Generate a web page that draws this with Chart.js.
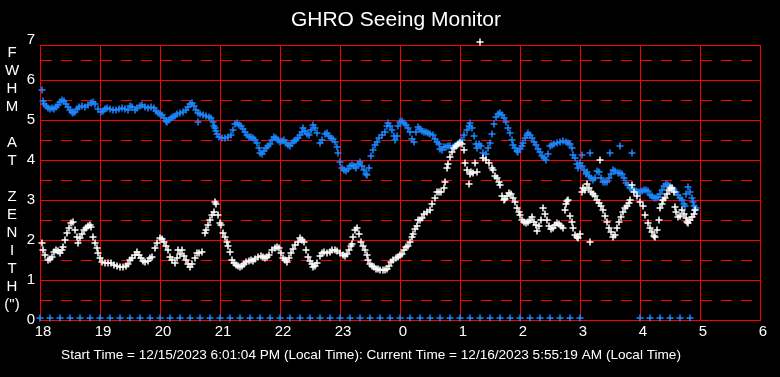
<!DOCTYPE html>
<html><head><meta charset="utf-8">
<script src="https://cdn.jsdelivr.net/npm/chart.js@4"></script>
<style>html,body{margin:0;padding:0;background:#000;}canvas{display:block;}</style>
</head><body>
<canvas id="c" width="780" height="377"></canvas>
<script>
const titleText = "GHRO Seeing Monitor";
const footerText = "Start Time = 12/15/2023 6:01:04 PM (Local Time): Current Time = 12/16/2023 5:55:19 AM (Local Time)";
const yAxisLetters = ["F","W","H","M","","A","T","","Z","E","N","I","T","H","(\")"];
const yMin = 0, yFrameTop = 6.875;
const yTickValues = [0,0.5,1,1.5,2,2.5,3,3.5,4,4.5,5,5.5,6,6.5,6.875,7];
const xStartHour = 18, xEndHour = 30;

// [minutes after 18:00, FWHM]
const bluePoints = [[2,5.75],[3,5.48],[4,5.40],[6,5.35],[8,5.30],[10,5.28],[12,5.30],[14,5.27],[16,5.32],[18,5.38],[20,5.45],[22,5.50],[24,5.47],[26,5.40],[28,5.33],[30,5.25],[32,5.20],[33,5.17],[35,5.20],[37,5.28],[39,5.33],[42,5.35],[45,5.33],[48,5.37],[51,5.43],[53,5.45],[55,5.40],[58,5.28],[61,5.20],[63,5.22],[65,5.28],[67,5.30],[70,5.27],[73,5.25],[76,5.25],[79,5.27],[82,5.30],[85,5.28],[88,5.25],[90,5.35],[92,5.32],[95,5.25],[97,5.30],[100,5.35],[102,5.37],[105,5.32],[108,5.30],[111,5.33],[114,5.30],[116,5.22],[118,5.18],[120,5.15],[122,5.12],[124,5.05],[126,4.97],[127,4.95],[129,5.00],[131,5.05],[133,5.07],[135,5.10],[137,5.15],[140,5.18],[143,5.20],[146,5.25],[148,5.32],[150,5.40],[152,5.43],[154,5.35],[156,5.25],[158,5.18],[160,5.15],[163,5.12],[166,5.10],[169,5.08],[171,5.05],[173,4.95],[174,4.85],[175,4.80],[176,4.72],[177,4.65],[179,4.57],[182,4.55],[185,4.55],[188,4.57],[191,4.62],[193,4.75],[195,4.90],[197,4.93],[199,4.88],[201,4.85],[203,4.78],[205,4.70],[207,4.62],[209,4.58],[211,4.57],[213,4.55],[215,4.50],[217,4.42],[219,4.30],[220,4.17],[222,4.15],[224,4.22],[226,4.30],[228,4.35],[230,4.40],[232,4.50],[234,4.57],[236,4.55],[238,4.50],[240,4.45],[242,4.47],[244,4.50],[246,4.43],[248,4.37],[250,4.35],[252,4.42],[254,4.48],[256,4.50],[258,4.55],[260,4.62],[262,4.70],[263,4.80],[265,4.72],[267,4.65],[269,4.62],[271,4.75],[273,4.87],[275,4.80],[277,4.68],[280,4.42],[282,4.50],[285,4.65],[287,4.67],[289,4.60],[291,4.55],[293,4.52],[295,4.45],[297,4.33],[298,4.17],[300,3.95],[302,3.80],[304,3.75],[306,3.72],[308,3.78],[310,3.85],[312,3.88],[314,3.85],[316,3.80],[318,3.90],[320,3.95],[322,3.85],[324,3.75],[326,3.65],[327,3.62],[329,3.80],[331,4.10],[333,4.25],[335,4.38],[337,4.45],[339,4.55],[342,4.62],[345,4.70],[347,4.85],[348,4.92],[350,4.85],[352,4.75],[354,4.60],[355,4.50],[357,4.60],[358,4.85],[360,4.95],[362,4.98],[364,4.92],[366,4.88],[368,4.80],[370,4.70],[372,4.52],[374,4.45],[376,4.70],[378,4.82],[380,4.78],[382,4.72],[384,4.70],[386,4.70],[388,4.68],[390,4.65],[393,4.62],[395,4.52],[397,4.45],[399,4.40],[400,4.27],[402,4.25],[404,4.32],[406,4.33],[408,4.35],[410,4.35],[413,4.32],[415,4.35],[417,4.37],[420,4.45],[422,4.50],[424,4.62],[427,4.75],[429,4.85],[430,4.92],[432,4.80],[434,4.60],[436,4.40],[437,4.30],[439,4.40],[441,4.35],[443,4.18],[446,4.15],[448,4.30],[450,4.42],[452,4.65],[454,4.90],[456,5.07],[458,5.15],[460,5.17],[462,5.12],[464,5.05],[466,4.95],[468,4.80],[470,4.67],[472,4.50],[473,4.37],[475,4.30],[477,4.22],[478,4.20],[480,4.28],[482,4.35],[483,4.42],[485,4.55],[487,4.62],[488,4.67],[490,4.62],[492,4.55],[494,4.45],[496,4.37],[498,4.28],[500,4.20],[502,4.10],[504,4.05],[506,4.00],[508,4.15],[510,4.35],[512,4.37],[514,4.40],[517,4.43],[520,4.45],[523,4.48],[526,4.45],[528,4.42],[530,4.40],[532,4.30],[533,4.12],[535,4.05],[537,3.90],[538,3.80],[540,3.92],[542,3.85],[544,3.75],[546,3.65],[547,3.70],[549,3.60],[551,3.55],[553,3.50],[555,3.55],[557,3.72],[559,3.70],[561,3.55],[563,3.45],[565,3.45],[567,3.45],[569,3.55],[571,3.65],[573,3.75],[575,3.72],[578,3.67],[580,3.67],[582,3.65],[584,3.55],[586,3.42],[588,3.38],[590,3.30],[592,3.27],[594,3.25],[596,3.22],[598,3.20],[600,3.20],[602,3.22],[604,3.25],[606,3.25],[608,3.22],[610,3.12],[612,3.10],[614,3.05],[616,3.05],[618,3.08],[620,3.15],[622,3.25],[624,3.35],[626,3.40],[628,3.38],[630,3.35],[632,3.30],[634,3.25],[636,3.20],[638,3.12],[640,3.05],[642,3.00],[644,2.90],[645,2.85],[646,3.15],[648,3.32],[650,3.20],[652,3.05],[653,2.95],[654,2.85],[655,2.75],[656,2.80],
  [542,4.12],[550,4.17],[570,4.17],[580,4.35],[592,4.17],[158,4.95]];

const whitePoints = [[2,1.92],[3,1.75],[5,1.62],[8,1.50],[10,1.52],[12,1.58],[14,1.70],[16,1.75],[18,1.72],[20,1.67],[22,1.75],[23,1.83],[25,2.00],[27,2.17],[29,2.30],[31,2.42],[33,2.45],[35,2.25],[37,2.08],[38,1.92],[40,2.05],[42,2.15],[44,2.25],[46,2.30],[48,2.35],[50,2.37],[51,2.33],[53,2.08],[55,1.92],[57,1.80],[58,1.67],[60,1.55],[62,1.45],[65,1.43],[68,1.42],[71,1.42],[74,1.38],[77,1.35],[80,1.33],[83,1.33],[86,1.35],[88,1.40],[90,1.50],[92,1.55],[95,1.62],[97,1.70],[99,1.62],[101,1.55],[103,1.48],[105,1.45],[108,1.48],[110,1.55],[112,1.58],[115,1.80],[117,1.92],[120,2.05],[122,2.02],[124,1.95],[126,1.85],[128,1.75],[130,1.58],[132,1.50],[135,1.42],[137,1.55],[138,1.75],[140,1.65],[142,1.75],[144,1.60],[146,1.50],[148,1.40],[150,1.33],[152,1.40],[155,1.55],[157,1.67],[159,1.67],[162,1.70],[165,2.17],[166,2.25],[168,2.37],[170,2.50],[172,2.62],[174,2.70],[175,2.95],[176,2.90],[178,2.62],[180,2.42],[181,2.37],[183,2.17],[185,2.08],[187,1.95],[188,1.85],[190,1.70],[192,1.50],[194,1.42],[196,1.37],[198,1.35],[200,1.33],[202,1.35],[204,1.40],[206,1.45],[209,1.48],[211,1.50],[213,1.47],[215,1.52],[218,1.58],[221,1.60],[223,1.58],[225,1.55],[227,1.58],[229,1.62],[232,1.75],[235,1.80],[237,1.83],[239,1.80],[241,1.68],[243,1.55],[245,1.50],[247,1.45],[249,1.55],[251,1.67],[253,1.78],[255,1.87],[258,1.95],[260,2.05],[262,2.00],[264,1.95],[266,1.75],[268,1.58],[270,1.48],[272,1.40],[273,1.32],[275,1.35],[277,1.42],[280,1.60],[282,1.67],[284,1.70],[287,1.67],[290,1.70],[292,1.75],[295,1.75],[297,1.72],[300,1.67],[303,1.62],[305,1.60],[307,1.65],[309,1.75],[311,1.85],[312,1.90],[313,2.08],[315,2.25],[317,2.30],[319,2.15],[321,1.95],[323,1.85],[325,1.75],[327,1.62],[328,1.50],[330,1.40],[332,1.35],[334,1.32],[336,1.28],[338,1.27],[340,1.25],[343,1.24],[345,1.25],[347,1.28],[349,1.35],[351,1.45],[353,1.50],[356,1.55],[358,1.58],[360,1.62],[362,1.65],[364,1.75],[366,1.82],[368,1.85],[370,1.95],[372,2.08],[373,2.15],[375,2.28],[377,2.35],[378,2.50],[380,2.50],[382,2.55],[384,2.65],[387,2.70],[390,2.75],[392,2.90],[395,3.05],[397,3.20],[399,3.20],[401,3.20],[404,3.30],[405,3.45],[407,3.80],[408,3.90],[410,4.08],[412,4.20],[414,4.30],[416,4.35],[418,4.40],[420,4.42],[422,4.40],[424,4.25],[425,3.92],[427,3.75],[429,3.40],[430,3.65],[431,3.70],[433,3.68],[435,3.92],[437,3.70],[440,6.95],[443,4.05],[446,4.00],[449,3.92],[452,3.80],[453,3.75],[455,3.60],[457,3.55],[459,3.45],[460,3.37],[462,3.10],[464,3.00],[465,3.02],[467,3.10],[469,3.17],[471,3.15],[473,3.05],[475,2.95],[477,2.80],[479,2.70],[480,2.62],[482,2.50],[484,2.45],[486,2.43],[488,2.45],[490,2.50],[492,2.57],[494,2.45],[496,2.37],[497,2.22],[499,2.35],[501,2.50],[503,2.80],[505,2.65],[507,2.50],[509,2.35],[511,2.28],[513,2.30],[515,2.38],[517,2.42],[519,2.40],[521,2.35],[523,2.30],[525,2.75],[526,2.90],[527,2.98],[528,3.00],[530,2.60],[532,2.45],[533,2.30],[535,2.12],[537,2.08],[538,2.05],[540,2.15],[542,3.20],[543,3.30],[545,3.25],[547,3.40],[549,3.30],[550,1.95],[551,3.20],[553,3.15],[555,3.10],[557,3.00],[559,2.92],[560,4.00],[561,2.85],[563,2.75],[565,2.60],[567,2.45],[569,2.30],[571,2.20],[573,2.08],[575,2.12],[577,2.30],[579,2.45],[581,2.57],[583,2.70],[585,2.80],[587,2.85],[589,2.92],[590,3.00],[592,3.37],[594,3.20],[597,3.10],[600,2.95],[603,2.85],[605,2.62],[608,2.42],[610,2.30],[612,2.20],[614,2.10],[615,2.08],[617,2.25],[619,2.50],[620,2.80],[622,2.90],[623,3.00],[625,3.05],[627,3.15],[629,3.25],[630,3.30],[632,3.30],[634,3.20],[635,2.82],[636,2.70],[638,2.57],[640,2.60],[642,2.75],[644,2.65],[646,2.55],[647,2.45],[648,2.42],[650,2.50],[652,2.57],[654,2.65],[655,2.75]];

const zeroTimes = [0,10,20,30,40,50,60,70,80,90,100,110,120,130,140,150,160,170,180,190,200,210,220,230,240,250,260,270,280,290,300,310,320,330,340,350,360,370,380,390,400,410,420,430,440,450,460,470,480,490,500,510,520,530,540,600,610,620,630,640,650];
const zeroValue = 0.05;

const FONT = "'Liberation Sans', Arial, Helvetica, sans-serif";
const BLUE = 'rgb(30,136,255)';
const RED = 'rgb(255,0,0)';
const NONE = 'rgba(0,0,0,0)';

const toXY = (p) => ({x: xStartHour + p[0] / 60, y: p[1]});

const decor = {
  id: 'decor',
  beforeDraw(chart) {
    const c = chart.ctx;
    c.save();
    c.fillStyle = '#000';
    c.fillRect(0, 0, chart.width, chart.height);
    c.restore();
  },
  afterDraw(chart) {
    const c = chart.ctx;
    c.save();
    c.fillStyle = '#ffffff';
    c.textAlign = 'center';
    c.textBaseline = 'middle';
    c.font = '21px ' + FONT;
    c.fillText(titleText, 396, 20);
    c.font = '15px ' + FONT;
    yAxisLetters.forEach((l, i) => { if (l) c.fillText(l, 12, 53 + i * 18); });
    c.font = '13.6px ' + FONT;
    c.fillText(footerText, 371, 355);
    c.restore();
  }
};

const pointDs = (label, data, color, order) => ({
  label, data, order,
  showLine: false,
  pointStyle: 'cross',
  pointRadius: 3.5,
  pointHoverRadius: 3.5,
  pointBorderWidth: 1.5,
  borderColor: color,
  backgroundColor: color,
  clip: false
});

new Chart(document.getElementById('c'), {
  type: 'scatter',
  data: {
    datasets: [
      pointDs('White', whitePoints.map(toXY), '#ffffff', 0),
      pointDs('Blue', bluePoints.map(toXY), BLUE, 1),
      pointDs('Zero', zeroTimes.map(t => toXY([t, zeroValue])), BLUE, 2)
    ]
  },
  options: {
    responsive: false,
    devicePixelRatio: 1,
    animation: false,
    events: [],
    layout: { padding: { top: 45, right: 20, left: 0, bottom: 0 } },
    plugins: { legend: { display: false }, tooltip: { enabled: false }, title: { display: false } },
    scales: {
      x: {
        type: 'linear', min: xStartHour, max: xEndHour,
        alignToPixels: true,
        afterFit: (s) => { s.height = 57; },
        grid: { color: RED, lineWidth: 1, drawTicks: false },
        border: { color: RED, width: 1 },
        ticks: {
          stepSize: 1, autoSkip: false, maxRotation: 0, padding: 3, labelOffset: 3,
          color: '#ffffff', font: { family: FONT, size: 15 },
          callback: (v) => String(v % 24)
        }
      },
      y: {
        type: 'linear', min: yMin, max: yFrameTop,
        alignToPixels: true,
        afterFit: (s) => { s.width = 40; },
        afterBuildTicks: (s) => { s.ticks = yTickValues.map(v => ({ value: v })); },
        grid: {
          color: (ctx) => (ctx.tick && ctx.tick.value > yFrameTop) ? NONE : RED,
          lineWidth: 1, drawTicks: false
        },
        border: { color: RED, width: 1,
          dash: (ctx) => (ctx.tick && ctx.tick.value < yFrameTop && !Number.isInteger(ctx.tick.value)) ? [11, 9] : [] },
        ticks: {
          autoSkip: false, padding: 5,
          color: '#ffffff', font: { family: FONT, size: 15 },
          callback: (v) => Number.isInteger(v) ? String(v) : ''
        }
      }
    }
  },
  plugins: [decor]
});
</script>
</body></html>
